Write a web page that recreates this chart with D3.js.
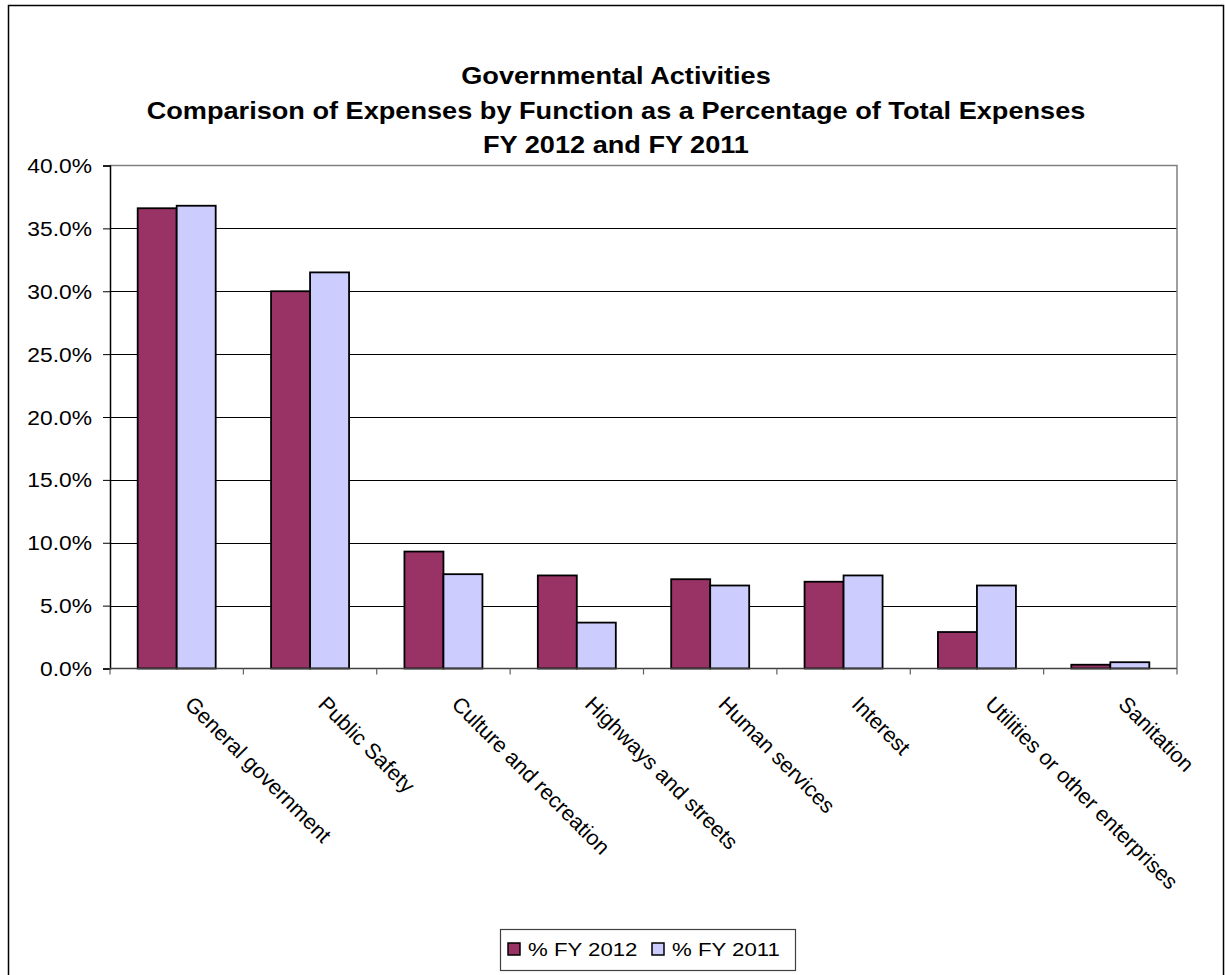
<!DOCTYPE html>
<html>
<head>
<meta charset="utf-8">
<script src="https://cdn.jsdelivr.net/npm/d3@7"></script>
<style>
  html, body { margin: 0; padding: 0; background: #fff; }
  svg { display: block; }
  text { font-family: "Liberation Sans", Arial, sans-serif; fill: #000; }
</style>
</head>
<body>
<svg id="chart" width="1225" height="975"></svg>
<script>
const categories = ["General government", "Public Safety", "Culture and recreation", "Highways and streets",
  "Human services", "Interest", "Utilities or other enterprises", "Sanitation"];
const seriesNames = ["% FY 2012", "% FY 2011"];
const fy2012 = [36.6, 30.0, 9.3, 7.4, 7.1, 6.9, 2.9, 0.3];
const fy2011 = [36.8, 31.5, 7.5, 3.65, 6.6, 7.4, 6.6, 0.5];
const yTicks = [0, 5, 10, 15, 20, 25, 30, 35, 40];
const titleLines = ["Governmental Activities",
  "Comparison of Expenses by Function as a Percentage of Total Expenses",
  "FY 2012 and FY 2011"];
const colors = ["#993366", "#CCCCFF"];

(function () {
const svg = d3.select("#chart");
const stretch = 1.17;

// outer chart border
svg.append("rect").attr("x", 8.5).attr("y", 5.5).attr("width", 1215).attr("height", 990)
  .attr("fill", "none").attr("stroke", "#000").attr("stroke-width", 1.5);

const pLeft = 110, pRight = 1177, pTop = 165.5, pBottom = 668.5;
const x = d3.scaleBand().domain(categories).range([pLeft, pRight]).padding(0);
const x1 = d3.scaleBand().domain(seriesNames).range([0, x.bandwidth()]).paddingInner(0).paddingOuter(0.71);
const y = d3.scaleLinear().domain([0, 40]).range([pBottom, pTop]);

// gridlines
svg.append("g").selectAll("line").data(yTicks.filter(t => t > 0 && t < 40)).join("line")
  .attr("x1", pLeft).attr("x2", pRight)
  .attr("y1", d => Math.round(y(d)) + 0.5).attr("y2", d => Math.round(y(d)) + 0.5)
  .attr("stroke", "#000").attr("stroke-width", 1);

// plot border top/right (grey)
svg.append("path")
  .attr("d", `M${pLeft},${pTop}H${pRight}V${pBottom}`)
  .attr("fill", "none").attr("stroke", "#808080").attr("stroke-width", 1.5);

// bars
const data = categories.map((c, i) => ({ c, vals: [fy2012[i], fy2011[i]] }));
const groups = svg.append("g").selectAll("g").data(data).join("g")
  .attr("transform", d => `translate(${x(d.c)},0)`);
groups.selectAll("rect").data(d => d.vals.map((v, j) => ({ v, s: seriesNames[j], j }))).join("rect")
  .attr("x", d => x1(d.s))
  .attr("width", x1.bandwidth())
  .attr("y", d => y(d.v))
  .attr("height", d => y(0) - y(d.v))
  .attr("fill", d => colors[d.j])
  .attr("stroke", "#000").attr("stroke-width", 1.8);

// y axis
const yAxis = d3.axisLeft(y).tickValues(yTicks).tickSize(7).tickFormat(d => d3.format(".1f")(d) + "%");
const ya = svg.append("g").attr("transform", `translate(${pLeft},0)`).call(yAxis);
ya.select(".domain").attr("stroke", "#000").attr("stroke-width", 1.5);
ya.selectAll(".tick line").attr("stroke", "#000");
ya.selectAll(".tick text").remove();
ya.selectAll(".tick").append("g")
  .attr("transform", `translate(-18,0) scale(${stretch},1)`)
  .append("text")
  .attr("text-anchor", "end").attr("dy", "0.36em")
  .style("font-size", "19.5px")
  .text(d => d3.format(".1f")(d) + "%");

// x axis
const xa = svg.append("g").attr("transform", `translate(0,${pBottom})`);
xa.append("line").attr("x1", pLeft).attr("x2", pRight).attr("y1", 0).attr("y2", 0)
  .attr("stroke", "#404040").attr("stroke-width", 1.5);
const boundaries = categories.map(c => x(c)).concat([pRight]);
xa.selectAll("line.tk").data(boundaries).join("line").attr("class", "tk")
  .attr("x1", d => d).attr("x2", d => d).attr("y1", 0).attr("y2", 6)
  .attr("stroke", "#606060").attr("stroke-width", 1.2);
xa.selectAll("text.cat").data(categories).join("text").attr("class", "cat")
  .attr("transform", d => `translate(${x(d) + x.bandwidth() / 2 + 7},${37}) rotate(45)`)
  .attr("text-anchor", "start")
  .style("font-size", "21.5px")
  .text(d => d);

// title
svg.append("g").selectAll("g").data(titleLines).join("g")
  .attr("transform", (d, i) => `translate(616,${84 + i * 34.5}) scale(${stretch},1)`)
  .append("text")
  .attr("text-anchor", "middle")
  .style("font-size", "23.2px").style("font-weight", "bold")
  .text(d => d);

// legend
const lg = svg.append("g");
lg.append("rect").attr("x", 500.5).attr("y", 929.5).attr("width", 295).attr("height", 41)
  .attr("fill", "#fff").attr("stroke", "#404040").attr("stroke-width", 1.2);
const legX = [508, 652];
const items = lg.selectAll("g.item").data(seriesNames).join("g").attr("class", "item")
  .attr("transform", (d, i) => `translate(${legX[i]},943)`);
items.append("rect").attr("width", 12).attr("height", 12)
  .attr("fill", (d, i) => colors[i]).attr("stroke", "#000").attr("stroke-width", 1.5);
items.append("g").attr("transform", `translate(20,12.5) scale(${stretch},1)`)
  .append("text").style("font-size", "19px").text(d => d);
})();
</script>
</body>
</html>
